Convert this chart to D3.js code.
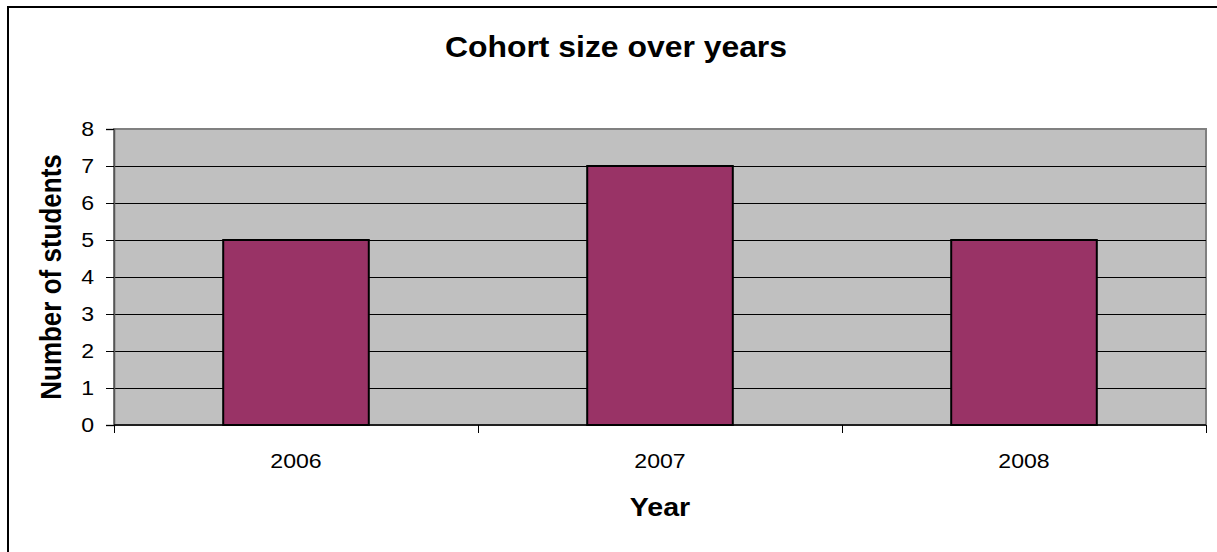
<!DOCTYPE html>
<html>
<head>
<meta charset="utf-8">
<script src="https://cdn.jsdelivr.net/npm/d3@7"></script>
<style>
  html, body { margin: 0; padding: 0; background: #fff; }
  svg { display: block; font-family: Arial, "Liberation Sans", sans-serif; }
</style>
</head>
<body>
<svg id="chart" width="1217" height="552"></svg>
<script>
// Cohort sizes per intake year
const years = ["2006", "2007", "2008"];
const students = [5, 7, 5];
const yTicks = [0, 1, 2, 3, 4, 5, 6, 7, 8];

const svg = d3.select("#chart");
const plot = { left: 114, right: 1206, top: 129, bottom: 425 };
// text in this chart is drawn slightly wide
const WIDE = 1.1;

// outer chart frame
svg.append("path")
  .attr("d", "M8,560 L8,7 L1225,7")
  .attr("fill", "none")
  .attr("stroke", "#000")
  .attr("stroke-width", 2);

const x = d3.scaleBand()
  .domain(years)
  .range([plot.left, plot.right])
  .paddingInner(0.6)
  .paddingOuter(0.3);

const y = d3.scaleLinear()
  .domain([0, 8])
  .range([plot.bottom, plot.top]);

// plot background
svg.append("rect")
  .attr("x", plot.left).attr("y", plot.top)
  .attr("width", plot.right - plot.left)
  .attr("height", plot.bottom - plot.top)
  .attr("fill", "#c0c0c0")
  .attr("stroke", "#808080")
  .attr("stroke-width", 2);

// horizontal gridlines
svg.append("g")
  .selectAll("line")
  .data(yTicks.filter(d => d > 0 && d < 8))
  .join("line")
  .attr("x1", plot.left).attr("x2", plot.right)
  .attr("y1", d => Math.round(y(d)) + 0.5)
  .attr("y2", d => Math.round(y(d)) + 0.5)
  .attr("stroke", "#000")
  .attr("stroke-width", 1);

// bars
svg.append("g")
  .selectAll("rect")
  .data(years.map((yr, i) => ({ yr, v: students[i] })))
  .join("rect")
  .attr("x", d => x(d.yr))
  .attr("y", d => y(d.v))
  .attr("width", x.bandwidth())
  .attr("height", d => y(0) - y(d.v))
  .attr("fill", "#993366")
  .attr("stroke", "#000")
  .attr("stroke-width", 2);

// y axis
const yAxis = svg.append("g")
  .attr("transform", `translate(${plot.left},0)`)
  .call(d3.axisLeft(y).tickValues(yTicks).tickFormat(d3.format("d")).tickSize(8).tickPadding(12));
yAxis.select(".domain").attr("stroke", "#555").attr("stroke-width", 1.5);
yAxis.selectAll(".tick line").attr("stroke", "#000");
yAxis.selectAll(".tick text")
  .attr("font-size", 21)
  .attr("fill", "#000")
  .attr("font-family", "Arial, 'Liberation Sans', sans-serif")
  .attr("x", -20 / WIDE)
  .attr("transform", `scale(${WIDE},1)`);

// x axis: ticks sit on category boundaries
const xAxis = svg.append("g")
  .attr("transform", `translate(0,${plot.bottom})`);
xAxis.append("line")
  .attr("x1", plot.left).attr("x2", plot.right)
  .attr("y1", 0).attr("y2", 0)
  .attr("stroke", "#000").attr("stroke-width", 1.5);
const bounds = years.map(d => x(d) - x.step() * x.paddingInner() / 2);
bounds.push(plot.right);
bounds[0] = plot.left;
xAxis.selectAll("line.tk")
  .data(bounds)
  .join("line")
  .attr("class", "tk")
  .attr("x1", d => Math.round(d) + 0.5).attr("x2", d => Math.round(d) + 0.5)
  .attr("y1", 0).attr("y2", 8)
  .attr("stroke", "#000");
xAxis.selectAll("text")
  .data(years)
  .join("text")
  .attr("transform", d => `translate(${x(d) + x.bandwidth() / 2},43) scale(${WIDE},1)`)
  .attr("text-anchor", "middle")
  .attr("font-size", 21)
  .text(d => d);

// title and axis titles
svg.append("text")
  .attr("transform", `translate(616,57) scale(${WIDE},1)`)
  .attr("text-anchor", "middle")
  .attr("font-size", 29)
  .attr("font-weight", "bold")
  .text("Cohort size over years");

svg.append("text")
  .attr("transform", `translate(${(plot.left + plot.right) / 2},516) scale(${WIDE},1)`)
  .attr("text-anchor", "middle")
  .attr("font-size", 26)
  .attr("font-weight", "bold")
  .text("Year");

svg.append("text")
  .attr("transform", `translate(61,${(plot.top + plot.bottom) / 2}) scale(${WIDE},1) rotate(-90)`)
  .attr("text-anchor", "middle")
  .attr("font-size", 26)
  .attr("font-weight", "bold")
  .text("Number of students");
</script>
</body>
</html>
